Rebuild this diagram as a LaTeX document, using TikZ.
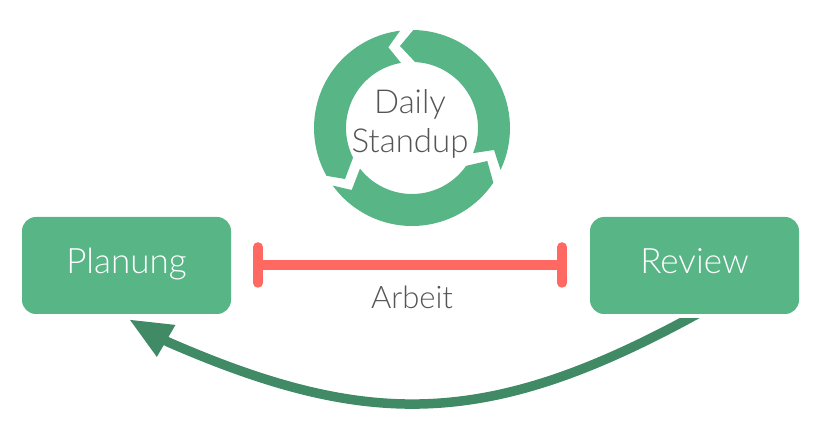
\documentclass[tikz,border=0pt]{standalone}
\usepackage{fontspec}
\setmainfont{Lato Light}
\usetikzlibrary{arrows.meta, positioning}
\definecolor{boxgreen}{HTML}{57B586}
\definecolor{arrowgreen}{HTML}{408A66}
\definecolor{barred}{HTML}{FF6961}
\definecolor{textgrey}{HTML}{555555}

\begin{document}
\begin{tikzpicture}[x=1pt, y=1pt,
        phase/.style={fill=boxgreen, rounded corners=14pt, minimum width=209pt, minimum height=97pt, text=white, text height=27pt, text depth=10pt, font=\fontsize{35}{35}\selectfont},
        caption/.style={text=textgrey, anchor=base, font=\fontsize{33}{33}\selectfont, inner sep=0pt},
        work/.style={draw=barred, line width=9.5pt},
        ring/.style={fill=boxgreen}]
        \useasboundingbox (0, 0) rectangle (816, 447);

        % cycle
        \coordinate (C) at (412, 319);
        \fill [ring] ([shift={(97:98pt)}]C) arc [start angle=97, end angle=209.2, radius=98pt]
            -- (345, 268) -- ([shift={(206.7:66pt)}]C) arc [start angle=206.7, end angle=99.6, radius=66pt]
            -- (388.3, 399.7) -- cycle;
        \fill [ring] ([shift={(89.2:98pt)}]C) arc [start angle=89.2, end angle=-25.3, radius=98pt]
            -- (494, 297) -- ([shift={(-22.4:66pt)}]C) arc [start angle=-22.4, end angle=87.3, radius=66pt]
            -- (400, 401) -- cycle;
        \fill [ring] ([shift={(-33.9:98pt)}]C) arc [start angle=-33.9, end angle=-144, radius=98pt]
            -- (351.7, 257) -- ([shift={(-142:66pt)}]C) arc [start angle=-142, end angle=-35, radius=66pt]
            -- (487.3, 286) -- cycle;
        \node [caption] (Daily) at (410, 333) {Daily};
        \node [caption] (Standup) at (410, 294) {Standup};

        % boxes
        \node [phase] (Planung) at (126.5, 181.5) {Planung};
        \node [phase] (Review) at (694.5, 181.5) {Review};

        % work bar
        \coordinate (W1) at (258, 182);
        \coordinate (W2) at (562, 182);
        \coordinate (W1a) at (258, 200);
        \coordinate (W1b) at (258, 164);
        \coordinate (W2a) at (562, 200);
        \coordinate (W2b) at (562, 164);
        \draw [work] (W1) -- (W2);
        \draw [work, line cap=round] (W1a) -- (W1b);
        \draw [work, line cap=round] (W2a) -- (W2b);
        \node [caption, font=\fontsize{31}{31}\selectfont] (Arbeit) at (412, 138) {Arbeit};

        % feedback
        \coordinate (Rev) at (699, 134);
        \coordinate (Neck) at (168, 105);
        \coordinate (Plan) at (129, 127.7);
        \begin{scope}
            \clip (0, 0) rectangle (816, 128);
            \draw [arrowgreen, line width=9.5pt, -{Triangle[length=43pt, width=34pt]}] (Rev) .. controls (490, 19) and (370, 17) .. (Neck) -- (Plan);
        \end{scope}
\end{tikzpicture}
\end{document}
